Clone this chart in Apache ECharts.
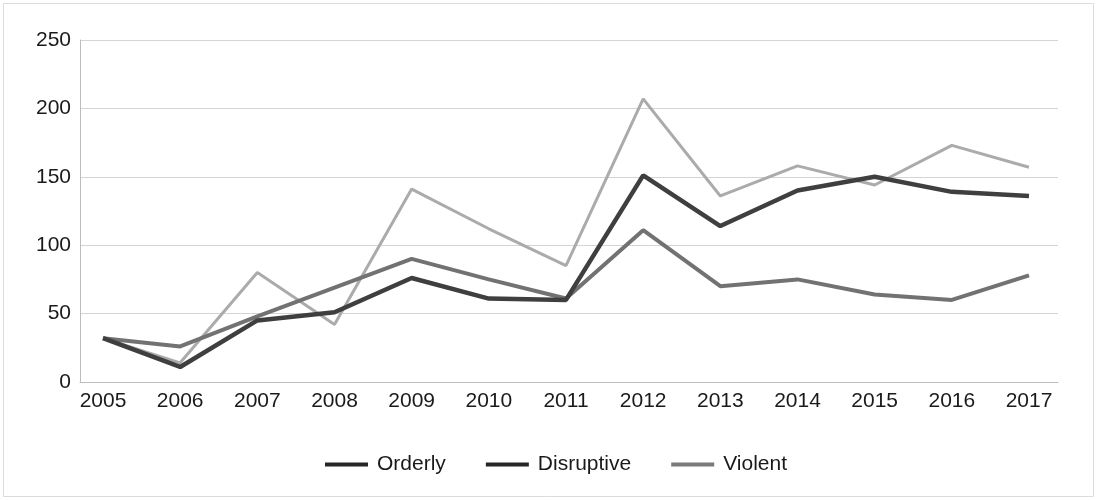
<!DOCTYPE html>
<html>
<head>
<meta charset="utf-8">
<script src="https://cdn.jsdelivr.net/npm/echarts@6/dist/echarts.min.js"></script>
<style>
  html, body { margin: 0; padding: 0; background: #fff; }
  #chart { width: 1097px; height: 500px; }
</style>
</head>
<body>
<div id="chart"></div>
<script>
// Yearly event counts by type, 2005-2017
const years = ['2005','2006','2007','2008','2009','2010','2011','2012','2013','2014','2015','2016','2017'];
const orderly    = [32, 14, 80, 42, 141, 112, 85, 207, 136, 158, 144, 173, 157];
const disruptive = [32, 11, 45, 51, 76, 61, 60, 151, 114, 140, 150, 139, 136];
const violent    = [32, 26, 48, 69, 90, 75, 61, 111, 70, 75, 64, 60, 78];
const yTicks = { min: 0, max: 250, interval: 50 };

const font = 'Liberation Sans, Arial, sans-serif';
const gridTop = 40, gridBottom = 118;

const chart = echarts.init(document.getElementById('chart'));
chart.setOption({
  backgroundColor: '#fff',
  animation: false,
  graphic: [{
    type: 'rect',
    shape: { x: 3.5, y: 3.5, width: 1090, height: 493 },
    style: { fill: 'none', stroke: '#dcdcdc', lineWidth: 1 },
    silent: true
  }],
  grid: [
    // frame grid: value gridlines and axis lines
    { left: 80, right: 39, top: gridTop, bottom: gridBottom },
    // data grid: category points between first and last year
    { left: 103, right: 68, top: gridTop, bottom: gridBottom }
  ],
  xAxis: [
    {
      gridIndex: 0, type: 'value', min: 0, max: 1,
      axisLine: { show: true, lineStyle: { color: '#bdbdbd', width: 1 } },
      axisTick: { show: false }, axisLabel: { show: false }, splitLine: { show: false }
    },
    {
      gridIndex: 1, type: 'category', data: years, boundaryGap: false,
      axisLine: { show: false }, axisTick: { show: false },
      axisLabel: { color: '#1a1a1a', fontFamily: font, fontSize: 21, margin: 9 },
      splitLine: { show: false }
    }
  ],
  yAxis: [
    {
      gridIndex: 0, type: 'value', min: yTicks.min, max: yTicks.max, interval: yTicks.interval,
      axisLine: { show: true, lineStyle: { color: '#bdbdbd', width: 1 } },
      axisTick: { show: false },
      axisLabel: { color: '#1a1a1a', fontFamily: font, fontSize: 21, margin: 9 },
      splitLine: { show: true, lineStyle: { color: '#d4d4d4', width: 1 } }
    },
    {
      gridIndex: 1, type: 'value', min: yTicks.min, max: yTicks.max, interval: yTicks.interval,
      show: false, splitLine: { show: false }
    }
  ],
  legend: {
    orient: 'horizontal',
    left: 320, top: 449,
    icon: 'rect',
    itemWidth: 43, itemHeight: 4, itemGap: 40,
    textStyle: { color: '#1a1a1a', fontFamily: font, fontSize: 21, padding: [0, 0, 0, 4] },
    data: [
      { name: 'Orderly', itemStyle: { color: '#262626' } },
      { name: 'Disruptive', itemStyle: { color: '#262626' } },
      { name: 'Violent', itemStyle: { color: '#7a7a7a' } }
    ]
  },
  series: [
    {
      name: 'Orderly', type: 'line', xAxisIndex: 1, yAxisIndex: 1, data: orderly,
      symbol: 'none', lineStyle: { color: '#ababab', width: 3 }, itemStyle: { color: '#ababab' }, z: 2
    },
    {
      name: 'Disruptive', type: 'line', xAxisIndex: 1, yAxisIndex: 1, data: disruptive,
      symbol: 'none', lineStyle: { color: '#3f3f3f', width: 4.5 }, itemStyle: { color: '#3f3f3f' }, z: 4
    },
    {
      name: 'Violent', type: 'line', xAxisIndex: 1, yAxisIndex: 1, data: violent,
      symbol: 'none', lineStyle: { color: '#727272', width: 4 }, itemStyle: { color: '#727272' }, z: 3
    }
  ]
});
</script>
</body>
</html>
